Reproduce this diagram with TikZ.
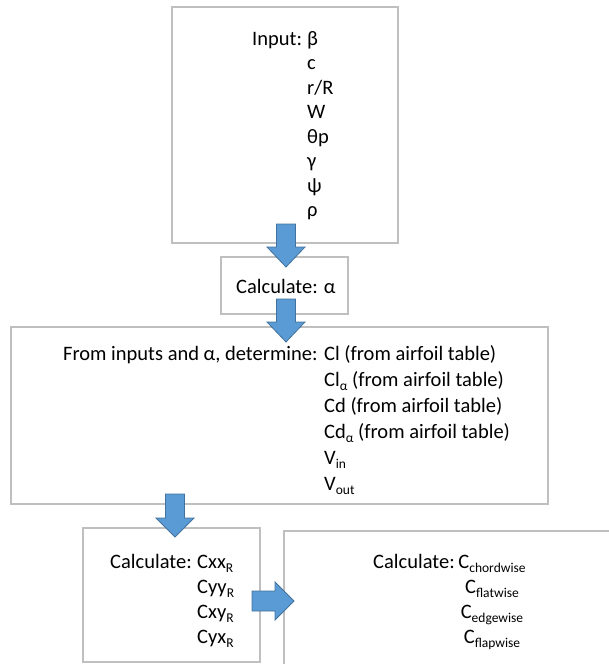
\documentclass[tikz,border=0pt]{standalone}
\usepackage{fontspec}
\setmainfont{Carlito}
\definecolor{boxgray}{HTML}{BFBFBF}
\definecolor{arrowblue}{HTML}{5B9BD5}
\definecolor{arrowedge}{HTML}{41719C}
\newcommand\sbs[1]{\raisebox{-0.2em}{\fontsize{13.5}{13.5}\selectfont #1}}
\begin{document}
\begin{tikzpicture}[x=1pt,y=-1pt,line join=miter]
	\tikzset{box/.style={draw=boxgray,line width=1.3pt},
		blockarrow/.style={fill=arrowblue,draw=arrowedge,line width=0.8pt},
		txt/.style={inner sep=0pt,anchor=base west,font=\fontsize{20.5}{24.5}\selectfont}}
	\useasboundingbox (0,0) rectangle (609,664);
	\clip (0,0) rectangle (609,664);
	% boxes
	\draw[box] (172,7) rectangle (398,243);
	\draw[box] (221,257) rectangle (348,314);
	\draw[box] (11,327) rectangle (548,504);
	\draw[box] (83,528) rectangle (260,662);
	\draw[box] (284,531) rectangle (640,690);
	% texts
	\node[txt] (inputlbl) at (252,45) {Input:};
	\node[txt] (inputlist) at (307,45) {\begin{tabular}[t]{@{}l@{}}
			β\\ c\\ r/R\\ W\\ θp\\ γ\\ ψ\\ ρ
		\end{tabular}};
	\node[txt] (calcalpha) at (236,293) {Calculate: α};
	\node[txt] (determinelbl) at (63,360) {From inputs and α, determine:};
	\node[txt,font=\fontsize{20.5}{26}\selectfont] (determinelist) at (324,360) {\begin{tabular}[t]{@{}l@{}}
			Cl (from airfoil table)\\
			Cl\sbs{α} (from airfoil table)\\
			Cd (from airfoil table)\\
			Cd\sbs{α} (from airfoil table)\\
			V\sbs{in}\\
			V\sbs{out}
		\end{tabular}};
	\node[txt] (calcRlbl) at (110,568) {Calculate:};
	\node[txt,font=\fontsize{20.5}{25}\selectfont] (calcRlist) at (197,568) {\begin{tabular}[t]{@{}l@{}}
			Cxx\sbs{R}\\ Cyy\sbs{R}\\ Cxy\sbs{R}\\ Cyx\sbs{R}
		\end{tabular}};
	\node[txt] (calcClbl) at (373,568) {Calculate:};
	\node[txt,anchor=base,font=\fontsize{20.5}{25}\selectfont] (calcClist) at (492,568) {\begin{tabular}[t]{@{}c@{}}
			C\sbs{chordwise}\\ C\sbs{flatwise}\\ C\sbs{edgewise}\\ C\sbs{flapwise}
		\end{tabular}};
	% arrows
	\foreach \cx/\ya/\yb/\yc in {286/224/247/267,286/299/322/342,175/494/518/537}
	\draw[blockarrow] (\cx-9.5,\ya)--(\cx+9.5,\ya)--(\cx+9.5,\yb)--(\cx+19,\yb)--(\cx,\yc)
		--(\cx-19,\yb)--(\cx-9.5,\yb)--cycle;
	\draw[blockarrow] (252,591)--(275,591)--(275,582)--(294,601)--(275,620)--(275,611)--(252,611)--cycle;
\end{tikzpicture}
\end{document}
